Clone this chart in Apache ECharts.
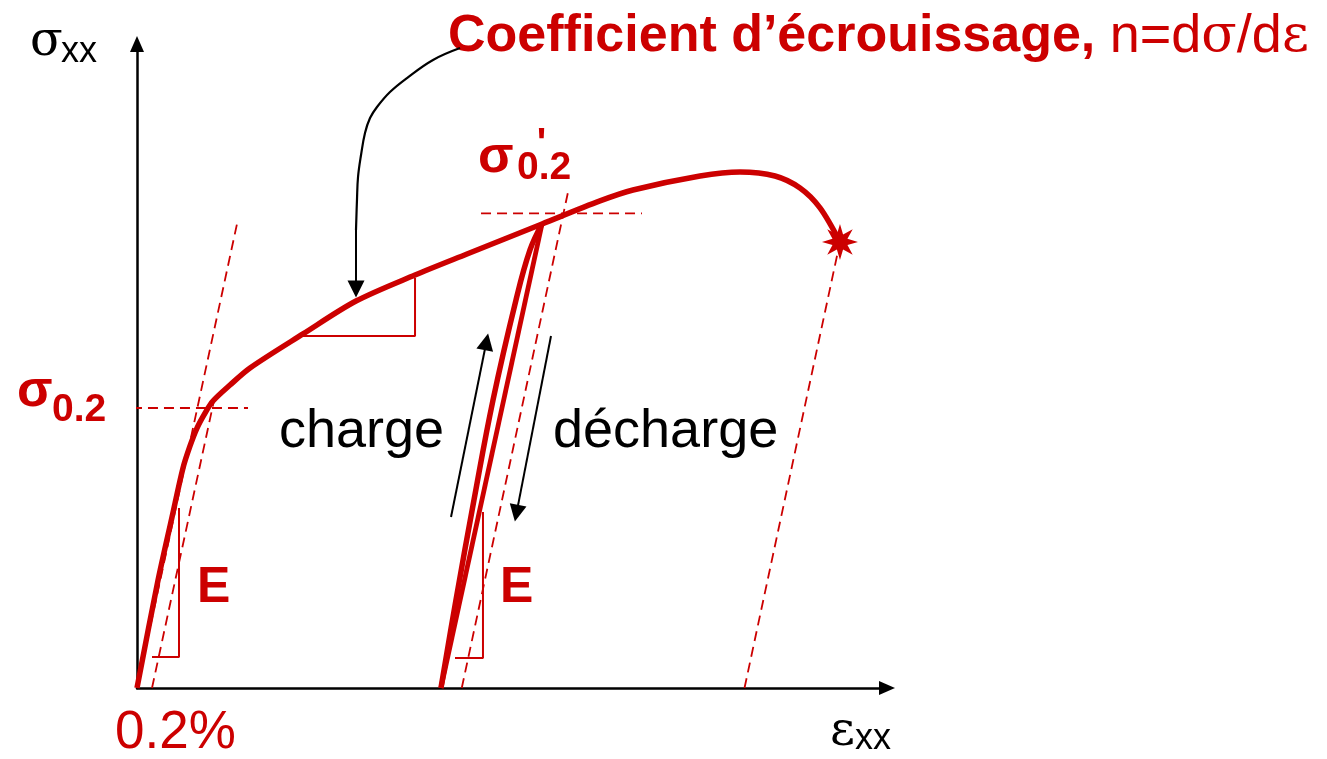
<!DOCTYPE html>
<html>
<head>
<meta charset="utf-8">
<title>Courbe de traction</title>
<script src="https://cdn.jsdelivr.net/npm/echarts@6/dist/echarts.min.js"></script>
<style>
  html, body { margin: 0; padding: 0; background: #fff; }
  #chart { width: 1327px; height: 759px; }
</style>
</head>
<body>
<div id="chart"></div>
<script>
// schematic tensile curve: strain in %, stress in MPa
const RED = '#cc0000'
const SANS = 'Liberation Sans, Arial, sans-serif'
const GREEK = 'DejaVu Serif, Liberation Serif, serif'

const tractionCurve = [
  [0, 0], [0.273, 75], [0.467, 122.1], [0.613, 157.1], [0.707, 172.9], [0.8, 185.7],
  [0.907, 196.4], [1.013, 205], [1.24, 216.4], [1.507, 228.6], [2.213, 252.9],
  [2.92, 276.4], [3.707, 295], [4.4, 310], [5.4, 331.4], [6.173, 347.9],
  [6.613, 355.7], [7.507, 365.7], [8.04, 368.6], [8.507, 365.7], [8.84, 357.1],
  [9.107, 342.9], [9.373, 318.6],
]
const rechargePath = [
  [4.053, 0], [4.253, 62.9], [4.493, 134.3], [4.747, 205.7], [5.053, 277.1],
  [5.24, 312.9], [5.4, 331.4],
]
const dechargePath = [[4.053, 0], [5.4, 331.4]]
const rupture = [9.373, 318.6]

// dashed construction lines
const tangentE = [[0, 0], [1.333, 331.4]]
const offset02 = [[0.2, 0], [1.025, 205]]
const offsetReload = [[4.33, 0], [5.76, 357.5]]
const ruptureUnload = [[8.1, 0], [9.373, 318.6]]
const sigma02Level = [[-0.067, 200], [1.48, 200]]
const sigma02pLevel = [[4.587, 339], [6.733, 339]]

// slope triangles
const slopeE1 = [[0.56, 128.6], [0.56, 22.1], [0.2, 22.1]]
const slopeE2 = [[4.613, 125.7], [4.613, 21.4], [4.24, 21.4]]
const slopeN = [[2.213, 251.4], [3.707, 251.4], [3.707, 292.9]]

// black arrows
const hardeningPath = [
  [4.307, 457.1], [3.947, 448.6], [3.6, 435.7], [3.373, 425.7], [3.2, 415],
  [3.107, 407.1], [3.04, 396.4], [2.987, 380.7], [2.947, 365], [2.933, 348.6], [2.92, 327.1],
]
const arrowSegments = [
  [[2.92, 327.1], [2.92, 285]],
  [[4.187, 122.1], [4.659, 247.3]],
  [[5.52, 251.4], [5.06, 124.9]],
]

// annotations: anchor = left edge, vertical middle of the text
const labelAnchors = [
  [-1.427, 461], [-1.013, 454.4],
  [9.24, -32], [9.573, -36.3],
  [4.147, 465],
  [-1.6, 211.4], [-1.133, 198.6],
  [4.547, 378.9], [5.067, 371.4], [5.33, 388],
  [1.893, 182.6], [5.547, 182.6],
  [0.8, 71.1], [4.84, 71.1],
  [-0.293, -32.6],
]
const labelTexts = [
  '{gk|σ}', '{sk|xx}',
  '{gk|ε}', '{sk|xx}',
  '{tb|Coefficient d’écrouissage, }{tn|n=d}{tg|σ}{tn|/d}{tg|ε}',
  '{gr|σ}', '{sr|0.2}',
  '{gr|σ}', '{sr|0.2}', '{pr|\'}',
  '{txt|charge}', '{txt|décharge}',
  '{e|E}', '{e|E}',
  '{pct|0.2%}',
]

const STAR = 'path://M10,0 L11.72,5.84 L17.07,2.93 L14.16,8.28 L20,10 L14.16,11.72 L17.07,17.07 L11.72,14.16 L10,20 L8.28,14.16 L2.93,17.07 L5.84,11.72 L0,10 L5.84,8.28 L2.93,2.93 L8.28,5.84 Z'

function curve(data, width, opts) {
  return Object.assign({
    type: 'line',
    data: data,
    showSymbol: false,
    clip: false,
    silent: true,
    lineStyle: { color: RED, width: width },
  }, opts || {})
}

function dashed(data) {
  return curve(data, 1.8, { lineStyle: { color: RED, width: 1.8, type: [10, 6] } })
}

const chart = echarts.init(document.getElementById('chart'))

const axisCommon = {
  type: 'value',
  axisTick: { show: false },
  axisLabel: { show: false },
  splitLine: { show: false },
  axisLine: {
    show: true,
    onZero: false,
    symbol: ['none', 'triangle'],
    symbolSize: [14, 16],
    lineStyle: { color: '#000', width: 2.5 },
  },
}

chart.setOption({
  animation: false,
  backgroundColor: '#fff',
  grid: { left: 137, right: 440, top: 44, bottom: 71 },
  xAxis: Object.assign({ min: 0, max: 10 }, axisCommon),
  yAxis: Object.assign({ min: 0, max: 460 }, axisCommon),
  series: [
    dashed(tangentE),
    dashed(offset02),
    dashed(offsetReload),
    dashed(ruptureUnload),
    dashed(sigma02Level),
    dashed(sigma02pLevel),
    curve(slopeE1, 2),
    curve(slopeE2, 2),
    curve(slopeN, 2),
    curve(tractionCurve, 5.5, { smooth: 0.3 }),
    curve(rechargePath, 5.5, { smooth: 0.4 }),
    curve(dechargePath, 4.8),
    curve(hardeningPath, 2.2, { smooth: 0.4, lineStyle: { color: '#000', width: 2.2 } }),
    {
      type: 'lines',
      coordinateSystem: 'cartesian2d',
      silent: true,
      symbol: ['none', 'triangle'],
      symbolSize: [14, 17],
      lineStyle: { color: '#000', width: 2, opacity: 1 },
      data: arrowSegments.map(c => ({ coords: c })),
    },
    {
      type: 'scatter',
      silent: true,
      clip: false,
      symbol: STAR,
      symbolSize: 36,
      itemStyle: { color: RED, opacity: 1 },
      data: [rupture],
    },
    {
      type: 'scatter',
      silent: true,
      clip: false,
      symbolSize: 0,
      itemStyle: { opacity: 1 },
      data: labelAnchors,
      label: {
        show: true,
        position: 'inside',
        align: 'left',
        verticalAlign: 'middle',
        formatter: p => labelTexts[p.dataIndex],
        rich: {
          gk: { fontFamily: GREEK, fontSize: 48, color: '#000' },
          sk: { fontFamily: SANS, fontSize: 36, color: '#000' },
          gr: { fontFamily: SANS, fontWeight: 'bold', fontSize: 52, color: RED },
          sr: { fontFamily: SANS, fontWeight: 'bold', fontSize: 39, color: RED },
          pr: { fontFamily: SANS, fontWeight: 'bold', fontSize: 40, color: RED },
          tb: { fontFamily: SANS, fontWeight: 'bold', fontSize: 52, color: RED },
          tn: { fontFamily: SANS, fontSize: 54, color: RED },
          tg: { fontFamily: GREEK, fontSize: 52, color: RED },
          txt: { fontFamily: SANS, fontSize: 54, color: '#000' },
          e: { fontFamily: SANS, fontWeight: 'bold', fontSize: 50, color: RED },
          pct: { fontFamily: SANS, fontSize: 53, color: RED },
        },
      },
    },
  ],
})
</script>
</body>
</html>
